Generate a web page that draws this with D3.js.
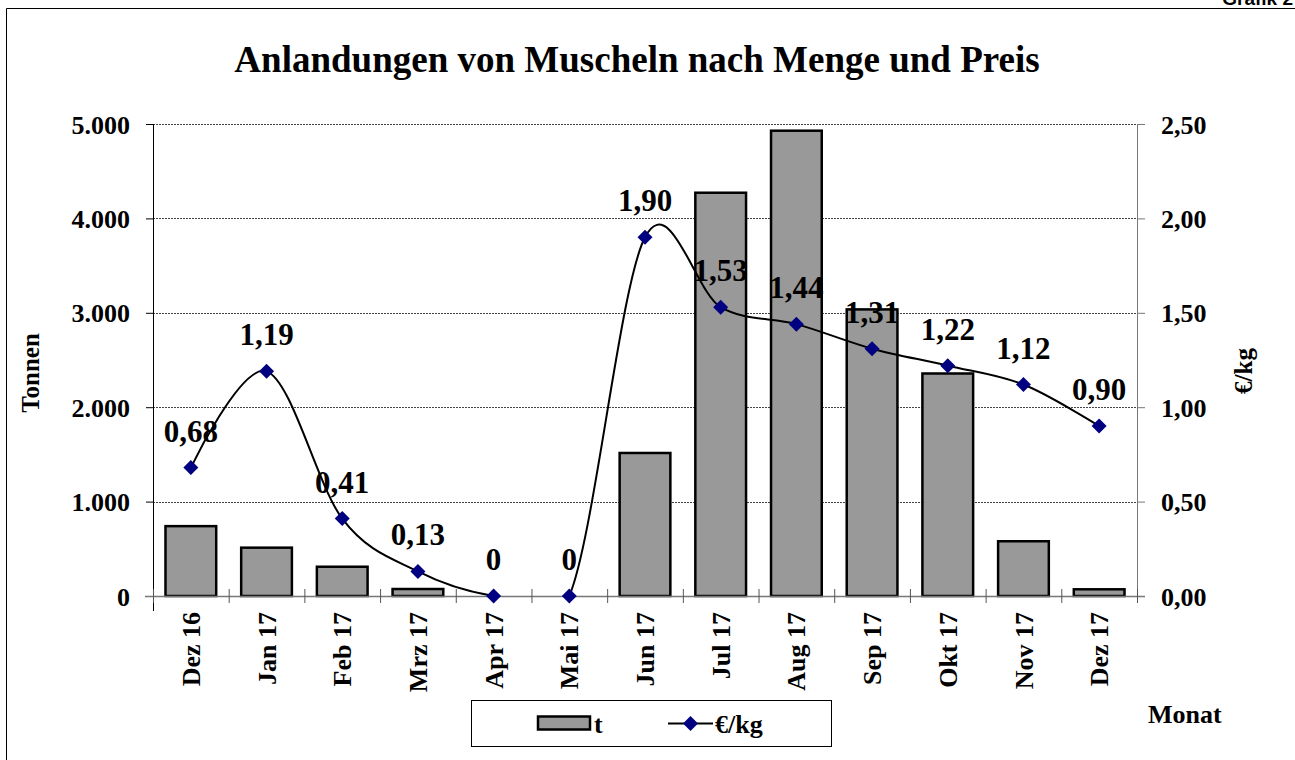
<!DOCTYPE html>
<html>
<head>
<meta charset="utf-8">
<title>Anlandungen von Muscheln</title>
<script src="https://d3js.org/d3.v7.min.js"></script>
<style>
  body { margin: 0; background: #fff; }
  text { font-family: "Liberation Serif", "Times New Roman", serif; font-weight: bold; fill: #000; }
</style>
</head>
<body>
<div id="chart"></div>
<script>
// Daten
const monate = ["Dez 16", "Jan 17", "Feb 17", "Mrz 17", "Apr 17", "Mai 17", "Jun 17",
                "Jul 17", "Aug 17", "Sep 17", "Okt 17", "Nov 17", "Dez 17"];
const tonnen = [740, 512, 310, 74, 0, 0, 1515, 4272, 4929, 3036, 2357, 580, 71];
const preis = [0.68, 1.19, 0.41, 0.13, 0, 0, 1.90, 1.53, 1.44, 1.31, 1.22, 1.12, 0.90];
const preisLabels = ["0,68", "1,19", "0,41", "0,13", "0", "0", "1,90", "1,53", "1,44", "1,31", "1,22", "1,12", "0,90"];
const tonnenTicks = [0, 1000, 2000, 3000, 4000, 5000];
const preisTicks = [0, 0.5, 1, 1.5, 2, 2.5];

const W = 1295, H = 760;
const margin = {top: 124, right: 158, bottom: 164, left: 153};
const w = W - margin.left - margin.right;
const h = H - margin.top - margin.bottom;

const de = d3.formatLocale({decimal: ",", thousands: ".", grouping: [3], currency: ["", " €"]});
const fmtT = de.format(",.0f");
const fmtP = de.format(".2f");

const svg = d3.select("#chart").append("svg")
    .attr("width", W).attr("height", H);

// Rahmen
svg.append("path")
    .attr("d", "M6.5," + H + " V8.5 H" + W)
    .attr("fill", "none").attr("stroke", "#000").attr("stroke-width", 1);

svg.append("text")
    .attr("x", 1293).attr("y", 5)
    .attr("text-anchor", "end")
    .style("font-family", "'Liberation Sans', Arial, sans-serif")
    .attr("font-size", "19px")
    .text("Grafik 2");

// Titel
svg.append("text")
    .attr("x", 637).attr("y", 72)
    .attr("text-anchor", "middle")
    .attr("font-size", "37px")
    .text("Anlandungen von Muscheln nach Menge und Preis");

const g = svg.append("g")
    .attr("transform", "translate(" + margin.left + "," + margin.top + ")");

g.append("clipPath").attr("id", "plotclip")
  .append("rect").attr("x", 0).attr("y", -60).attr("width", w).attr("height", h + 60);

const x = d3.scaleBand().domain(monate).range([0, w]).paddingInner(0.33).paddingOuter(0.165);
const xb = d3.scaleBand().domain(monate).range([0, w]);
const yT = d3.scaleLinear().domain([0, 5000]).range([h, 0]);
const yP = d3.scaleLinear().domain([0, 2.5]).range([h, 0]);

// Gitterlinien
g.selectAll("line.grid")
    .data(tonnenTicks.slice(1))
    .enter().append("line")
    .attr("class", "grid")
    .attr("x1", 0).attr("x2", w)
    .attr("y1", d => Math.round(yT(d)) + 0.5).attr("y2", d => Math.round(yT(d)) + 0.5)
    .attr("stroke", "#444").attr("stroke-width", 1).attr("stroke-dasharray", "2,1");

// Balken
g.selectAll("rect.bar")
    .data(tonnen)
    .enter().append("rect")
    .attr("class", "bar")
    .attr("x", (d, i) => x(monate[i]))
    .attr("y", d => yT(d))
    .attr("width", x.bandwidth())
    .attr("height", d => h - yT(d))
    .attr("fill", "#999999")
    .attr("stroke", "#000").attr("stroke-width", 2.5);

// linke Achse
const yAxisL = d3.axisLeft(yT).tickValues(tonnenTicks).tickFormat(fmtT).tickSize(7).tickPadding(16);
const gl = g.append("g").call(yAxisL);
gl.select(".domain").attr("d", "M0.5,0V" + (h + 15));
gl.selectAll("text").attr("font-size", "26px").attr("dy", "0.35em");

// rechte Achse
const yAxisR = d3.axisRight(yP).tickValues(preisTicks).tickFormat(fmtP).tickSize(8).tickPadding(16);
const gr = g.append("g").attr("transform", "translate(" + w + ",0)").call(yAxisR);
gr.select(".domain").attr("d", "M0.5,0V" + h).attr("stroke", "#777");
gr.selectAll(".tick line").attr("stroke", "#777");
gr.selectAll("text").attr("font-size", "26px").attr("dy", "0.35em");

// Linie (auf Diagrammfläche beschnitten)
const cx = i => xb(monate[i]) + xb.bandwidth() / 2;
const line = d3.line()
    .x((d, i) => cx(i))
    .y(d => yP(d))
    .curve(d3.curveCardinal.tension(0));
g.append("path")
    .datum(preis)
    .attr("clip-path", "url(#plotclip)")
    .attr("d", line)
    .attr("fill", "none").attr("stroke", "#000").attr("stroke-width", 2);

// x-Achse
const gx = g.append("g").attr("transform", "translate(0," + h + ")");
gx.append("line").attr("x1", -8).attr("x2", w + 8).attr("y1", 0.5).attr("y2", 0.5)
    .attr("stroke", "#777").attr("stroke-width", 1.5);
gx.selectAll("line.tk")
    .data(monate.concat(["end"]))
    .enter().append("line")
    .attr("class", "tk")
    .attr("x1", (d, i) => (i < monate.length ? xb(d) : w) + 0.5)
    .attr("x2", (d, i) => (i < monate.length ? xb(d) : w) + 0.5)
    .attr("y1", -7).attr("y2", 7)
    .attr("stroke", "#555");
gx.selectAll("text.mon")
    .data(monate)
    .enter().append("text")
    .attr("class", "mon")
    .attr("transform", d => "translate(" + (xb(d) + xb.bandwidth() / 2) + ",16) rotate(-90)")
    .attr("text-anchor", "end")
    .attr("dy", "0.35em")
    .attr("font-size", "26px")
    .text(d => d);

const diamond = "M0,-7.5L7.5,0L0,7.5L-7.5,0Z";
g.selectAll("path.mk")
    .data(preis)
    .enter().append("path")
    .attr("class", "mk")
    .attr("d", diamond)
    .attr("transform", (d, i) => "translate(" + cx(i) + "," + yP(d) + ")")
    .attr("fill", "#000080");

g.selectAll("text.val")
    .data(preis)
    .enter().append("text")
    .attr("class", "val")
    .attr("x", (d, i) => cx(i))
    .attr("y", d => yP(d) - 26)
    .attr("text-anchor", "middle")
    .attr("font-size", "31px")
    .text((d, i) => preisLabels[i]);

// Achsentitel
svg.append("text")
    .attr("transform", "translate(39,373) rotate(-90)")
    .attr("text-anchor", "middle")
    .attr("font-size", "25px")
    .text("Tonnen");
svg.append("text")
    .attr("transform", "translate(1252,371) rotate(-90)")
    .attr("text-anchor", "middle")
    .attr("font-size", "25px")
    .text("€/kg");
svg.append("text")
    .attr("x", 1148).attr("y", 723)
    .attr("font-size", "26px")
    .text("Monat");

// Legende
const lg = svg.append("g");
lg.append("rect").attr("x", 471.5).attr("y", 700.5).attr("width", 360).attr("height", 46)
    .attr("fill", "#fff").attr("stroke", "#000").attr("stroke-width", 1);
lg.append("rect").attr("x", 538).attr("y", 716.5).attr("width", 52).attr("height", 13)
    .attr("fill", "#999999").attr("stroke", "#000").attr("stroke-width", 2.5);
lg.append("text").attr("x", 594).attr("y", 733).attr("font-size", "26px").text("t");
lg.append("line").attr("x1", 668).attr("x2", 713).attr("y1", 723.5).attr("y2", 723.5)
    .attr("stroke", "#000").attr("stroke-width", 2);
lg.append("path").attr("d", diamond).attr("transform", "translate(690.5,723.5)").attr("fill", "#000080");
lg.append("text").attr("x", 715).attr("y", 733).attr("font-size", "26px").text("€/kg");
</script>
</body>
</html>
